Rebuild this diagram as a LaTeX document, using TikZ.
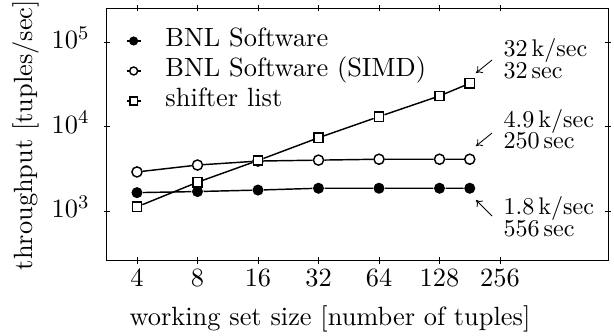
\documentclass[tikz,border=0pt,11pt]{standalone}
\usepackage{amsmath,amssymb}
\usepackage{tikz}
\usetikzlibrary{arrows.meta}

\begin{document}
\begin{tikzpicture}[x=25.11pt, y=35.07pt, >={To[length=2.4pt, width=3.6pt]},
	axtick/.style={line width=0.4pt},
	axlabel/.style={anchor=base, inner sep=0pt},
	series/.style={line width=0.6pt},
	dotmark/.style={circle, fill=black, inner sep=0pt, minimum size=4.6pt},
	circmark/.style={circle, draw=black, fill=white, line width=0.6pt, inner sep=0pt, minimum size=4.2pt},
	boxmark/.style={rectangle, draw=black, fill=white, line width=0.6pt, inner sep=0pt, minimum size=3.9pt},
	legdot/.style={dotmark, minimum size=3.8pt},
	legcirc/.style={circmark, minimum size=3.3pt},
	legbox/.style={boxmark, minimum size=3.2pt},
	note/.style={anchor=base west, inner sep=0pt, font=\fontsize{10pt}{12pt}\selectfont}]
	\useasboundingbox (-2.264,-1.479) rectangle (7.884,2.497);

	% frame and ticks (x: log2 of size, y: log10 of throughput)
	\coordinate (sw) at (-0.496,-0.588);
	\coordinate (ne) at (7.785,2.402);
	\draw[axtick] (sw) rectangle (ne);
	\foreach \i/\lab in {0/4, 1/8, 2/16, 3/32, 4/64, 5/128, 6/256} {
		\draw[axtick] (\i,-0.588) ++(0,-1.4pt) -- ++(0,2.8pt);
		\draw[axtick] (\i,2.402) ++(0,-1.4pt) -- ++(0,2.8pt);
		\node[anchor=base, inner sep=0pt] (xt\i) at (\i,-0.896) {$\lab$};
	}
	\foreach \k in {0,1,2} {
		\draw[axtick] (-0.496,\k) ++(-1.4pt,0) -- ++(2.8pt,0);
		\draw[axtick] (7.785,\k) ++(-1.4pt,0) -- ++(2.8pt,0);
		\pgfmathtruncatemacro{\e}{\k+3}
		\node[anchor=base east, inner sep=0pt] (yt\k) at (-0.777,\k-0.079) {$10^{\e}$};
	}
	\node[axlabel, rotate=90] (ylab) at (-1.719,0.899) {throughput [tuples/sec]};
	\node[axlabel] (xlab) at (3.19,-1.355) {working set size [number of tuples]};

	% measurements, throughput in k tuples/sec
	\foreach \n/\v [count=\i] in {4/1.65, 8/1.70, 16/1.77, 32/1.86, 64/1.86, 128/1.86, 181/1.86}
		\node[dotmark] (bnl\i) at ({log2(\n)-2},{log10(\v)}) {};
	\foreach \n/\v [count=\i] in {4/2.90, 8/3.50, 16/3.90, 32/4.00, 64/4.10, 128/4.10, 181/4.10}
		\node[circmark] (simd\i) at ({log2(\n)-2},{log10(\v)}) {};
	\foreach \n/\v [count=\i] in {4/1.12, 8/2.19, 16/3.96, 32/7.36, 64/13.1, 128/23.0, 181/32.4}
		\node[boxmark] (shl\i) at ({log2(\n)-2},{log10(\v)}) {};
	\draw[series] (bnl1) -- (bnl2) -- (bnl3) -- (bnl4) -- (bnl5) -- (bnl6) -- (bnl7);
	\draw[series] (simd1) -- (simd2) -- (simd3) -- (simd4) -- (simd5) -- (simd6) -- (simd7);
	\draw[series] (shl1) -- (shl2) -- (shl3) -- (shl4) -- (shl5) -- (shl6) -- (shl7);

	% legend
	\foreach \s/\txt [count=\r] in {legdot/BNL Software, legcirc/BNL Software (SIMD), legbox/shifter list} {
		\pgfmathsetmacro{\ly}{2.367-0.355*\r}
		\coordinate (ll\r) at (-0.171,\ly);
		\coordinate (lr\r) at (0.061,\ly);
		\draw[series] (ll\r) -- (lr\r);
		\node[\s] (lm\r) at (-0.055,\ly) {};
		\node[anchor=base west, inner sep=0pt] (lt\r) at (0.463,\ly-0.071) {\txt};
	}

	% end-point annotations
	\node[note] (r32) at (6.05,1.826) {32\,k/sec};
	\node[note] (t32) at (6.05,1.571) {32\,sec};
	\node[note] (r49) at (6.05,0.991) {4.9\,k/sec};
	\node[note] (t49) at (6.05,0.734) {250\,sec};
	\node[note] (r18) at (6.05,-0.036) {1.8\,k/sec};
	\node[note] (t18) at (6.05,-0.296) {556\,sec};
	\coordinate (a32) at (5.868,1.787);  \coordinate (p32) at (5.603,1.633);
	\coordinate (a49) at (5.868,0.923);  \coordinate (p49) at (5.603,0.769);
	\coordinate (a18) at (5.868,-0.059); \coordinate (p18) at (5.603,0.130);
	\draw[->, line width=0.35pt] (a32) -- (p32);
	\draw[->, line width=0.35pt] (a49) -- (p49);
	\draw[->, line width=0.35pt] (a18) -- (p18);
\end{tikzpicture}
\end{document}
